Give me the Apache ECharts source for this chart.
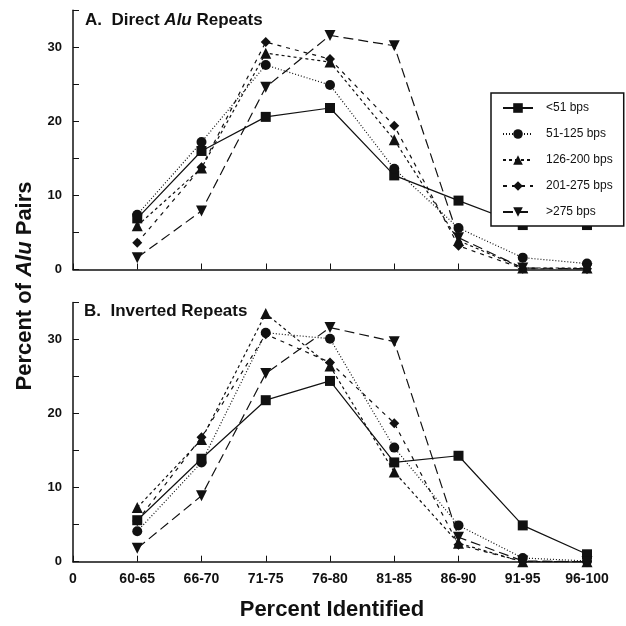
<!DOCTYPE html>
<html>
<head>
<meta charset="utf-8">
<script src="https://cdn.jsdelivr.net/npm/echarts@6/dist/echarts.min.js"></script>
<style>html,body{margin:0;padding:0;background:#fff}#c{width:626px;height:626px}</style>
</head>
<body>
<div id="c"></div>
<script>
const xLabels = ['0','60-65','66-70','71-75','76-80','81-85','86-90','91-95','96-100'];
const seriesNames = ['<51 bps','51-125 bps','126-200 bps','201-275 bps','>275 bps'];
// Panel A: Direct Alu Repeats
const directLt51   = [6.9, 16.0, 20.6, 21.8, 12.7, 9.3, 6.0, 6.0];
const direct51_125 = [7.4, 17.2, 27.6, 24.9, 13.6, 5.6, 1.6, 0.8];
const direct126_200= [5.9, 13.7, 29.2, 28.0, 17.5, 3.9, 0.2, 0.2];
const direct201_275= [3.6, 13.8, 30.7, 28.4, 19.4, 3.2, 0.1, 0.1];
const directGt275  = [1.6, 7.9, 24.6, 31.6, 30.2, 4.3, 0.2, 0.1];
// Panel B: Inverted Repeats
const invLt51   = [5.6, 13.9, 21.8, 24.4, 13.4, 14.3, 4.9, 1.0];
const inv51_125 = [4.1, 13.4, 30.9, 30.1, 15.4, 4.9, 0.5, 0.1];
const inv126_200= [7.3, 16.5, 33.5, 26.4, 12.1, 2.5, 0.0, 0.0];
const inv201_275= [5.5, 16.8, 30.7, 26.9, 18.7, 2.3, 0.0, 0.0];
const invGt275  = [1.8, 8.9, 25.4, 31.6, 29.7, 3.3, 0.1, 0.0];

const directData = [directLt51, direct51_125, direct126_200, direct201_275, directGt275];
const invData = [invLt51, inv51_125, inv126_200, inv201_275, invGt275];

const downTri = 'path://M0,0 L10,0 L5,9 Z';
const styles = [
  {symbol:'rect', size:10, type:'solid'},
  {symbol:'circle', size:10, type:[1,2]},
  {symbol:'triangle', size:11, type:[3,3]},
  {symbol:'diamond', size:10, type:[4,5]},
  {symbol:downTri, size:11, type:[10,5]}
];

const FONT = '"Liberation Sans", Arial, sans-serif';
const C = '#111';

function mkSeries(data, idx) {
  return data.map((arr, i) => ({
    name: seriesNames[i],
    type: 'line',
    xAxisIndex: idx, yAxisIndex: idx,
    data: arr.map((v, j) => [j + 1, v]),
    symbol: styles[i].symbol,
    symbolSize: styles[i].size,
    showAllSymbol: true,
    itemStyle: {color: C},
    lineStyle: {color: C, width: 1.2, type: styles[i].type},
    animation: false,
    z: 2
  }));
}

function xAx(idx, showLabels) {
  return {
    type: 'value', gridIndex: idx, min: 0, max: 8, interval: 1,
    axisLine: {lineStyle: {color: C, width: 1.5}},
    axisTick: {inside: true, length: 6, lineStyle: {color: C, width: 1}},
    splitLine: {show: false},
    axisLabel: {show: showLabels, formatter: v => xLabels[v] || '', color: C,
      fontFamily: FONT, fontWeight: 'bold', fontSize: 14, margin: 10}
  };
}
function yAx(idx) {
  return {
    type: 'value', gridIndex: idx, min: 0, max: 35, interval: 5,
    axisLine: {show: true, lineStyle: {color: C, width: 1.5}},
    axisTick: {show: true, inside: true, length: 6, lineStyle: {color: C, width: 1}},
    splitLine: {show: false},
    axisLabel: {formatter: v => (v % 10 === 0 ? String(v) : ''), color: C,
      fontFamily: FONT, fontWeight: 'bold', fontSize: 13, margin: 11}
  };
}

const chart = echarts.init(document.getElementById('c'), null, {renderer: 'canvas'});
chart.setOption({
  backgroundColor: '#fff',
  animation: false,
  grid: [
    {left: 73, top: 10.2, width: 514, height: 259.3},
    {left: 73, top: 302.4, width: 514, height: 259.3}
  ],
  xAxis: [xAx(0, false), xAx(1, true)],
  yAxis: [yAx(0), yAx(1)],
  legend: {
    data: seriesNames,
    orient: 'vertical',
    left: 491, top: 93,
    padding: [9, 11, 8, 11],
    itemWidth: 30, itemHeight: 12, itemGap: 14,
    backgroundColor: '#fff',
    borderColor: C, borderWidth: 1.5,
    textStyle: {color: C, fontFamily: FONT, fontSize: 12, padding: [0, 0, 0, 8]},
    z: 10
  },
  graphic: [
    {type: 'text', left: 85, top: 12, z: 20,
      style: {text: '{a|A.  Direct }{i|Alu}{a| Repeats}',
        rich: {a: {fontFamily: FONT, fontWeight: 'bold', fontSize: 17, fill: C},
               i: {fontFamily: FONT, fontWeight: 'bold', fontStyle: 'italic', fontSize: 17, fill: C}}}},
    {type: 'text', left: 84, top: 303, z: 20,
      style: {text: 'B.  Inverted Repeats', fontFamily: FONT, fontWeight: 'bold', fontSize: 17, fill: C}},
    {type: 'text', x: 25, y: 286, rotation: Math.PI / 2, z: 20,
      style: {text: '{a|Percent of }{i|Alu}{a| Pairs}', align: 'center', verticalAlign: 'middle',
        rich: {a: {fontFamily: FONT, fontWeight: 'bold', fontSize: 22, fill: C},
               i: {fontFamily: FONT, fontWeight: 'bold', fontStyle: 'italic', fontSize: 22, fill: C}}}},
    {type: 'text', x: 332, y: 610, z: 20,
      style: {text: 'Percent Identified', align: 'center', verticalAlign: 'middle',
        fontFamily: FONT, fontWeight: 'bold', fontSize: 22, fill: C}}
  ],
  series: mkSeries(directData, 0).concat(mkSeries(invData, 1))
});
</script>
</body>
</html>
